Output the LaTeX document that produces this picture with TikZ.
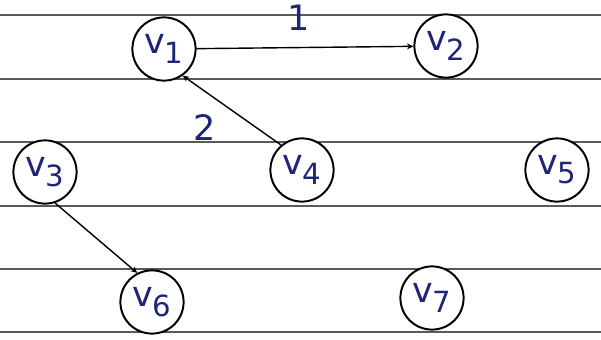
\documentclass[tikz,border=0pt]{standalone}
\usepackage{fontspec}
\setsansfont{DejaVu Sans}
\usepackage{xcolor}
\usepackage{tikz}
\usetikzlibrary{arrows.meta}
\definecolor{penblue}{HTML}{1E2478}
\definecolor{ruleline}{HTML}{5A5A5A}
\newcommand{\vlab}[1]{{\sffamily\color{penblue}v\textsubscript{#1}}}

\begin{document}
\begin{tikzpicture}[x=0.025cm,y=-0.025cm,font=\Huge,
  vert/.style={circle,draw=black,line width=1.4pt,minimum size=1.58cm,inner sep=0pt,fill=white},
  ar/.style={-{Stealth[length=1.6mm,width=1.5mm]},line width=1pt},
  wt/.style={text=penblue,font=\sffamily\Huge}]
\useasboundingbox (0,0) rectangle (601,340);
% ruled paper
\foreach \ry in {15,79,142,206,269,332}
  \draw[ruleline,line width=0.8pt] (0,\ry) -- (601,\ry);
\node[vert] (v1) at (164,49) {\vlab{1}};
\node[vert] (v2) at (446,46) {\vlab{2}};
\node[vert] (v3) at (45,172) {\vlab{3}};
\node[vert] (v4) at (302,170) {\vlab{4}};
\node[vert] (v5) at (557,170) {\vlab{5}};
\node[vert] (v6) at (152,302) {\vlab{6}};
\node[vert] (v7) at (432,298) {\vlab{7}};
\draw[ar] (v1) -- (v2) node[wt,pos=0.47,above=8pt] (w12) {1};
\draw[ar] (v4.130) -- (v1.-55) node[wt,pos=0.6,xshift=-0.43cm,yshift=-0.6cm] (w41) {2};
\draw[ar] (v3.-72) -- (v6.117);
\end{tikzpicture}
\end{document}
